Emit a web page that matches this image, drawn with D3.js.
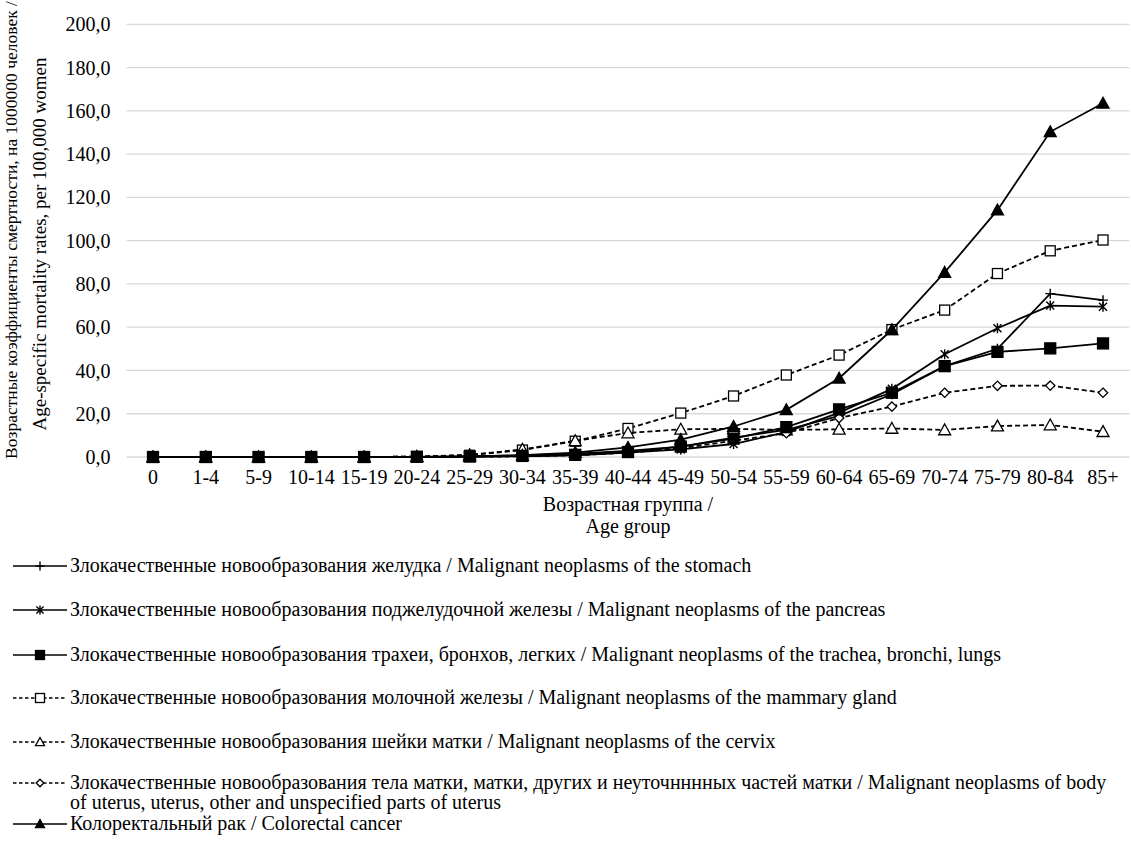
<!DOCTYPE html>
<html><head><meta charset="utf-8">
<script src="https://cdn.jsdelivr.net/npm/d3@7"></script>
<style>
body{margin:0;background:#fff}
svg text{font-family:"Liberation Serif","Times New Roman",serif;fill:#000}
</style>
</head><body>
<svg id="c" width="1131" height="841"></svg>
<script>
const categories = ["0","1-4","5-9","10-14","15-19","20-24","25-29","30-34","35-39","40-44","45-49","50-54","55-59","60-64","65-69","70-74","75-79","80-84","85+"];
const stomach   = [0,0,0,0,0,0.1,0.3,0.7,1.5,2.8,4.8,9.0,12.5,19.0,29.0,42.0,50.0,75.5,72.5];
const pancreas  = [0,0,0,0,0,0,0.1,0.3,0.8,2.0,3.5,6.0,11.5,20.5,31.5,47.5,59.5,70.0,69.5];
const lungs     = [0,0,0,0,0,0.1,0.2,0.5,1.0,2.3,4.8,8.5,13.8,22.0,29.7,42.0,48.6,50.2,52.5];
const mammary   = [0,0,0,0,0,0.2,0.8,3.2,7.3,13.2,20.3,28.2,37.9,47.1,58.9,67.9,84.8,95.3,100.3];
const cervix    = [0,0,0,0,0,0.2,1.0,3.5,7.5,11.1,12.8,13.0,12.5,12.8,13.2,12.5,14.3,14.8,11.7];
const uterus    = [0,0,0,0,0,0,0.1,0.3,0.8,2.0,4.0,7.5,11.0,18.0,23.3,29.7,32.9,33.0,29.7];
const colorectal= [0,0,0,0,0,0.1,0.3,0.8,2.0,4.4,8.0,14.1,21.8,36.4,58.8,85.3,114.1,150.3,163.5];

const seriesNames = [
  "Злокачественные новообразования желудка / Malignant neoplasms of the stomach",
  "Злокачественные новообразования поджелудочной железы / Malignant neoplasms of the pancreas",
  "Злокачественные новообразования трахеи, бронхов, легких  / Malignant neoplasms of the trachea, bronchi, lungs",
  "Злокачественные новообразования молочной железы / Malignant neoplasms of the mammary gland",
  "Злокачественные новообразования шейки матки / Malignant neoplasms of the cervix",
  "Злокачественные новообразования тела матки, матки, других и неуточнннных частей матки / Malignant neoplasms of body|of uterus, uterus, other and unspecified parts of uterus",
  "Колоректальный рак / Colorectal cancer"
];
const seriesValues = [stomach, pancreas, lungs, mammary, cervix, uterus, colorectal];
const seriesMarkers = ["plus","star","squareFilled","squareOpen","triangleOpen","diamondOpen","triangleFilled"];
const seriesDashed = [false,false,false,true,true,true,false];
const drawOrder = [0,1,3,4,5,6,2];
const yTicks = [0,20,40,60,80,100,120,140,160,180,200];
const yTitle = ["Возрастные коэффициенты смертности, на 1000000 человек /","Age-specific  mortality rates, per 100,000 women"];
const xTitle = ["Возрастная группа /","Age group"];

const svg = d3.select("#c");
const FF = '"Liberation Serif","Times New Roman",serif';
const FS = 20;
const left = 126.6, right = 1129.4, y0 = 457, yTop = 24.3;
const x = d3.scaleBand().domain(categories).range([left, right]);
const cx = c => x(c) + x.bandwidth()/2;
const y = d3.scaleLinear().domain([0,200]).range([y0, yTop]);

svg.append("g").selectAll("line").data(yTicks).join("line")
  .attr("x1", left).attr("x2", right)
  .attr("y1", d=>y(d)).attr("y2", d=>y(d))
  .attr("stroke","#d9d9d9").attr("stroke-width",1.3);

const ya = svg.append("g").attr("transform",`translate(${left},0)`)
  .call(d3.axisLeft(y).tickValues(yTicks).tickSize(0).tickPadding(16)
    .tickFormat(d=>d.toFixed(1).replace(".",",")));
ya.select(".domain").remove();
ya.attr("font-family",FF).attr("font-size",FS);
ya.selectAll("text").attr("dy","0.33em");

const xa = svg.append("g").attr("transform",`translate(0,${y0})`)
  .call(d3.axisBottom(x).tickSize(0).tickPadding(0));
xa.select(".domain").remove();
xa.attr("font-family",FF).attr("font-size",FS);
xa.selectAll("text").attr("dy",null).attr("y",27);

const yt1 = svg.append("text").attr("font-family",FF).attr("font-size",17.5).attr("text-anchor","middle")
  .attr("transform","translate(17,230) rotate(-90)").text(yTitle[0]);
const yt2 = svg.append("text").attr("font-family",FF).attr("font-size",19).attr("text-anchor","middle")
  .attr("transform","translate(46,244) rotate(-90)").text(yTitle[1]);
svg.selectAll(".xt").data(xTitle).join("text").attr("class","xt").attr("font-family",FF)
  .attr("x",628).attr("y",(d,i)=>511+i*22).attr("text-anchor","middle").attr("font-size",FS).text(d=>d);

function drawMarker(g, type, px, py, s){
  const h = s/2;
  if(type==="plus"){
    g.append("path").attr("d",`M${px-h},${py}H${px+h}M${px},${py-h}V${py+h}`).attr("stroke","#000").attr("stroke-width",1.4).attr("fill","none");
  } else if(type==="star"){
    const k = h*0.8;
    g.append("path").attr("d",`M${px-k},${py-k}L${px+k},${py+k}M${px-k},${py+k}L${px+k},${py-k}M${px},${py-h}V${py+h}`).attr("stroke","#000").attr("stroke-width",1.4).attr("fill","none");
  } else if(type==="squareFilled"||type==="squareOpen"){
    g.append("rect").attr("x",px-h).attr("y",py-h).attr("width",s).attr("height",s)
      .attr("fill",type==="squareFilled"?"#000":"#fff").attr("stroke","#000").attr("stroke-width",1.3);
  } else if(type==="triangleFilled"||type==="triangleOpen"){
    g.append("path").attr("d",`M${px},${py-h}L${px+h},${py+h*0.8}L${px-h},${py+h*0.8}Z`)
      .attr("fill",type==="triangleFilled"?"#000":"#fff").attr("stroke","#000").attr("stroke-width",1.3);
  } else if(type==="diamondOpen"){
    const d = h*0.85;
    g.append("path").attr("d",`M${px},${py-d}L${px+d},${py}L${px},${py+d}L${px-d},${py}Z`)
      .attr("fill","#fff").attr("stroke","#000").attr("stroke-width",1.3);
  }
}
const markerSize = {plus:10,star:10,squareFilled:11,squareOpen:10,triangleFilled:12,triangleOpen:12,diamondOpen:11};

const line = d3.line().x((d,i)=>cx(categories[i])).y(d=>y(d));
drawOrder.forEach(si=>{
  const vals = seriesValues[si];
  const g = svg.append("g");
  g.append("path").attr("d",line(vals)).attr("fill","none").attr("stroke","#000")
    .attr("stroke-width",1.8).attr("stroke-dasharray",seriesDashed[si]?"5,3":null);
  vals.forEach((v,i)=>drawMarker(g, seriesMarkers[si], cx(categories[i]), y(v), markerSize[seriesMarkers[si]]));
});

const legY = [566,610,655,698,742,783,824];
seriesNames.forEach((name,si)=>{
  const g = svg.append("g");
  const ly = legY[si];
  g.append("line").attr("x1",13).attr("x2",67).attr("y1",ly).attr("y2",ly)
    .attr("stroke","#000").attr("stroke-width",1.4).attr("stroke-dasharray",seriesDashed[si]?"3.5,2.5":null);
  drawMarker(g, seriesMarkers[si], 40, ly, 9);
  const t = g.append("text").attr("font-family",FF).attr("x",70).attr("y",ly+6).attr("font-size",FS);
  name.split("|").forEach((part,pi)=>t.append("tspan").attr("x",70).attr("dy",pi?20:0).text(part));
});
</script>
</body></html>
